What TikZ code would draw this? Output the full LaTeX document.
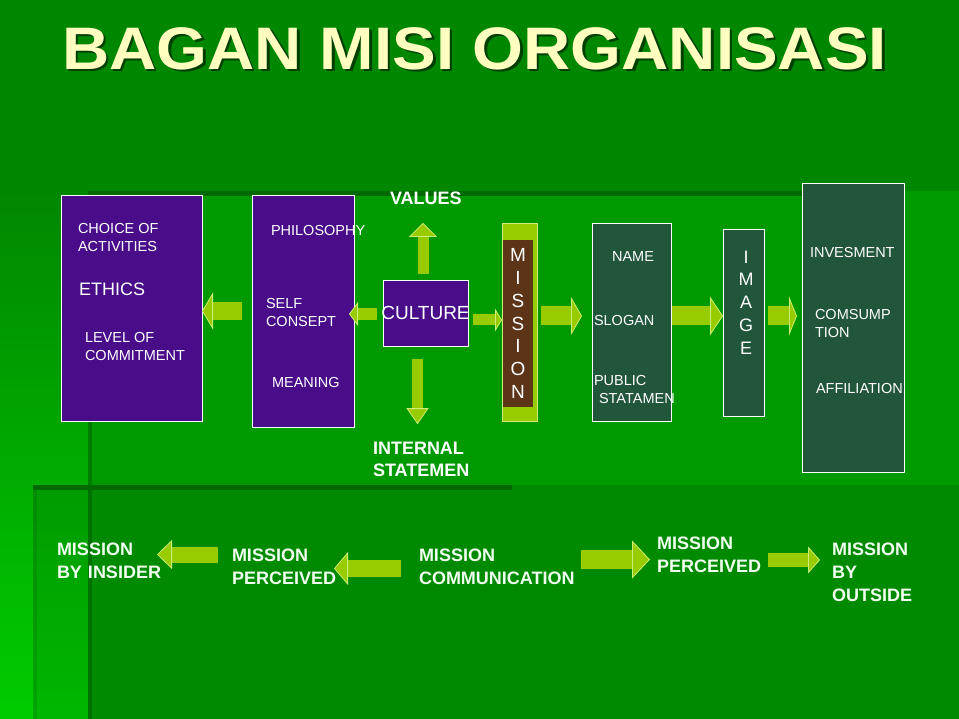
\documentclass[tikz,border=0pt]{standalone}
\usepackage{fontspec}
\setmainfont{Liberation Sans}
\usetikzlibrary{arrows.meta}

\definecolor{topgreen}{HTML}{008700}
\definecolor{leftgreen}{HTML}{00CC00}
\definecolor{panelgreen}{HTML}{009A00}
\definecolor{shadowgreen}{HTML}{006A00}
\definecolor{violetfelt}{HTML}{4A0D8A}
\definecolor{marble}{HTML}{21563A}
\definecolor{bark}{HTML}{5C3519}
\definecolor{arrowgreen}{HTML}{99CC00}
\definecolor{arrowrim}{HTML}{CCEE77}
\definecolor{cream}{HTML}{FFFFC0}
\definecolor{mintwhite}{HTML}{F0FFF0}

\begin{document}
\begin{tikzpicture}[
        x                 = 1pt,
        y                 = -1pt,
        every node/.style = {inner sep=0pt, outer sep=0pt},
        box/.style        = {draw=white, line width=0.8pt, anchor=north west},
        purplebox/.style  = {box, fill=violetfelt},
        marblebox/.style  = {box, fill=marble},
        small/.style      = {text=white, font=\fontsize{14.5}{18}\selectfont, align=left, anchor=west},
        heading/.style    = {text=white, font=\bfseries\fontsize{18}{22}\selectfont, align=left, anchor=west},
        bottomtext/.style = {text=mintwhite, font=\bfseries\fontsize{18}{23}\selectfont, align=left, anchor=west},
        fat/.style args   = {#1/#2/#3}{draw=arrowgreen, line width=#1pt,
                              -{Triangle[width=#2pt, length=#3pt, line width=0.8pt, color=arrowrim, fill=arrowgreen]}},
      ]
    \useasboundingbox (0,0) rectangle (959,719);

    % background panels
    \fill[topgreen] (0,0) rectangle (959,719);
    \shade[top color=topgreen, bottom color=leftgreen] (0,191) rectangle (88,719);
    \fill[panelgreen] (88,191) rectangle (959,719);
    \fill[shadowgreen] (88,191) rectangle (802,196);
    \fill[shadowgreen, opacity=0.6] (88,196) rectangle (92,719);
    \fill[black, opacity=0.1] (33,485) rectangle (959,719);
    \fill[shadowgreen] (33,485) rectangle (512,490);
    \fill[black, opacity=0.1] (33,490) rectangle (37,719);

    % title
    \node[text=shadowgreen!60!black, font=\bfseries\fontsize{60}{60}\selectfont] (titleshade) at (477,51)
        {\scalebox{1.09}[1]{BAGAN MISI ORGANISASI}};
    \node[text=cream, font=\bfseries\fontsize{60}{60}\selectfont] (title) at (474.5,48.5)
        {\scalebox{1.09}[1]{BAGAN MISI ORGANISASI}};

    % boxes
    \node[purplebox, minimum width=141pt, minimum height=226pt] (ethicsbox) at (61,195) {};
    \node[purplebox, minimum width=102pt, minimum height=232pt] (philbox) at (252,195) {};
    \node[purplebox, minimum width=85pt, minimum height=66pt] (culturebox) at (383,280) {};
    \node[box, fill=arrowgreen, draw=arrowrim, minimum width=35pt, minimum height=198pt] (missionbar) at (502,223) {};
    \node[fill=bark, minimum width=30pt, minimum height=167pt] (missioncore) at (518,323.5) {};
    \node[marblebox, minimum width=79pt, minimum height=198pt] (namebox) at (592,223) {};
    \node[marblebox, minimum width=41pt, minimum height=187pt] (imagebox) at (723,229) {};
    \node[marblebox, minimum width=102pt, minimum height=289pt] (affbox) at (802,183) {};

    % texts in the boxes
    \node[small] (choice) at (78,238) {CHOICE OF\\ACTIVITIES};
    \node[small, font=\fontsize{18}{22}\selectfont] (ethics) at (79,289) {ETHICS};
    \node[small] (level) at (85,347) {LEVEL OF\\COMMITMENT};
    \node[small] (philosophy) at (271,231) {PHILOSOPHY};
    \node[small] (selfconsept) at (266,313) {SELF\\CONSEPT};
    \node[small] (meaning) at (272,383) {MEANING};
    \node[text=white, font=\fontsize{19}{22}\selectfont] (culture) at (425.5,313) {CULTURE};
    \node[text=white, font=\fontsize{19}{22.8}\selectfont, align=center] (mission) at (518,323.5) {M\\I\\S\\S\\I\\O\\N};
    \node[small, anchor=center] (name) at (633,257) {NAME};
    \node[small] (slogan) at (594,321) {SLOGAN};
    \node[small] (public) at (594,390) {PUBLIC\\\hspace{5pt}STATAMEN};
    \node[text=white, font=\fontsize{18}{22.75}\selectfont, align=center] (image) at (746,302.5) {I\\M\\A\\G\\E};
    \node[small] (invesment) at (810,253) {INVESMENT};
    \node[small] (comsumption) at (815,324) {COMSUMP\\TION};
    \node[small] (affiliation) at (816,389) {AFFILIATION};
    \node[heading] (values) at (390,198) {VALUES};
    \node[heading] (internal) at (373,459) {INTERNAL\\STATEMEN};

    % upper arrows
    \draw[fat=18/37/11, shorten <=10pt] (philbox.west) -- (philbox.west -| ethicsbox.east);
    \draw[fat=12/24/9, shorten <=6pt, shorten >=-5pt] ([yshift=-1pt]culturebox.west) -- ([yshift=-1pt]culturebox.west -| philbox.east);
    \draw[fat=11/23/7, shorten <=5pt] ([yshift=-7pt]culturebox.east) -- ([yshift=-7pt]culturebox.east -| missionbar.west);
    \draw[fat=11/28/14, shorten <=6pt, shorten >=18.5pt] ([xshift=-2.5pt]culturebox.north) -- ([xshift=-2.5pt]culturebox.north |- values.south);
    \draw[fat=11/22/16, shorten <=13pt, shorten >=17.5pt] ([xshift=-8pt]culturebox.south) -- ([xshift=-8pt]culturebox.south |- internal.north);
    \draw[fat=19/38/11, shorten <=4pt, shorten >=10pt] ([yshift=6pt]missionbar.east) -- ([yshift=6pt]missionbar.east -| namebox.west);
    \draw[fat=19/39/13, shorten <=1pt] ([yshift=6pt]namebox.east) -- ([yshift=6pt]namebox.east -| imagebox.west);
    \draw[fat=19/39/8, shorten <=4pt, shorten >=5pt] ([yshift=6.5pt]imagebox.east) -- ([yshift=6.5pt]imagebox.east -| affbox.west);

    % lower row
    \node[bottomtext, text width=120pt] (insider) at (57,560.5) {MISSION\\BY INSIDER};
    \node[bottomtext, text width=110pt] (perceivedin) at (232,566.5) {MISSION\\PERCEIVED};
    \node[bottomtext, text width=166pt] (communication) at (419,566.5) {MISSION\\COMMUNICATION};
    \node[bottomtext, text width=112pt] (perceivedout) at (657,555) {MISSION\\PERCEIVED};
    \node[bottomtext, text width=90pt] (outside) at (832,572) {MISSION\\BY\\OUTSIDE};

    \draw[fat=16/29/15, shorten <=14pt, shorten >=-20pt] ([yshift=12pt]perceivedin.west) -- ([yshift=12pt]perceivedin.west -| insider.east);
    \draw[fat=17/33/14, shorten <=18pt, shorten >=-8pt] ([yshift=-2pt]communication.west) -- ([yshift=-2pt]communication.west -| perceivedin.east);
    \draw[fat=19/38/18, shorten <=-4pt, shorten >=7pt] ([yshift=7pt]communication.east) -- ([yshift=7pt]communication.east -| perceivedout.west);
    \draw[fat=14/27/12, shorten <=-1pt, shorten >=12pt] ([yshift=-5pt]perceivedout.east) -- ([yshift=-5pt]perceivedout.east -| outside.west);
\end{tikzpicture}
\end{document}
